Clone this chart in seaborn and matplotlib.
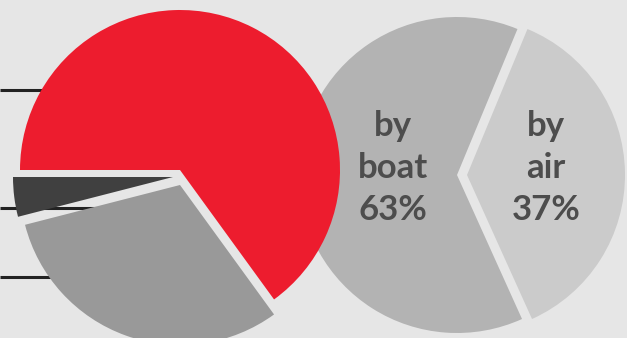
import matplotlib
matplotlib.use("Agg")
import matplotlib.pyplot as plt
import seaborn as sns

sns.set_theme(style="white")
plt.rcParams['font.family'] = ['Lato', 'DejaVu Sans']

# ---- data ----
share_categories = ["A", "B", "C"]
share_values = [65, 31, 4]
transport_categories = ["by\nboat", "by\nair"]
transport_values = [63, 37]

# ---- style ----
BG = "#e6e6e6"
share_colors = ["#ed1c2e", "#999999", "#404040"]
transport_colors = ["#b3b3b3", "#cbcbcb"]
TEXT = "#4d4d4d"
W, H = 627, 338

fig = plt.figure(figsize=(W / 100, H / 100), dpi=100, facecolor=BG)
ax = fig.add_axes([0, 0, 1, 1])
ax.set_facecolor(BG)
ax.set_xlim(0, W)
ax.set_ylim(0, H)
ax.set_aspect("equal")
ax.axis("off")

# leader lines (behind the pies)
for ypx in [90, 208, 277]:
    ax.plot([0, 120], [H - ypx, H - ypx], color="#222222", lw=2.2,
            solid_capstyle="butt", zorder=0)

# right pie: transport mode
tw, _ = ax.pie(transport_values, colors=transport_colors, startangle=67.5,
               counterclock=True, center=(457, H - 175), radius=158,
               wedgeprops=dict(linewidth=0))
t_offsets = [(0, 0), (10, 0)]
for w, (dx, dy) in zip(tw, t_offsets):
    cx, cy = w.center
    w.set_center((cx + dx, cy + dy))
    w.set_zorder(1)

# labels on the right pie
label_pos = [393, 546]
for name, val, x in zip(transport_categories, transport_values, label_pos):
    ax.text(x, H - 168, f"{name}\n{val}%", ha="center", va="center",
            fontsize=25, fontweight="bold", color=TEXT, linespacing=1.38,
            zorder=5)

# left pie: shares
sw, _ = ax.pie(share_values, colors=share_colors, startangle=180,
               counterclock=False, center=(180, H - 170), radius=160,
               wedgeprops=dict(linewidth=0))
s_offsets = [(0, 0), (0, -15), (-7, -7)]
for w, (dx, dy) in zip(sw, s_offsets):
    cx, cy = w.center
    w.set_center((cx + dx, cy + dy))
    w.set_zorder(3)

ax.set_xlim(0, W)
ax.set_ylim(0, H)
fig.savefig("out.png", dpi=100, facecolor=BG)
